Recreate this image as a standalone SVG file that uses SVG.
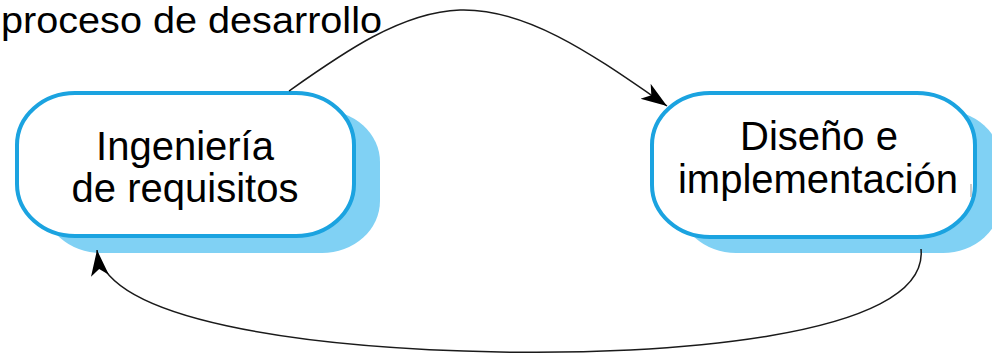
<svg xmlns="http://www.w3.org/2000/svg" width="992" height="362" viewBox="0 0 992 362">
<style>
.shadow{fill:#80d1f4;stroke:none}
.box{fill:#ffffff;stroke:#1ba3e0;stroke-width:4}
.t{font-family:"Liberation Sans",Arial,sans-serif;font-size:40px;fill:#000;text-anchor:middle}
.conn{fill:none;stroke:#1a1a1a;stroke-width:1.5}
</style>
<defs>
<marker id="arr" markerUnits="userSpaceOnUse" markerWidth="28" markerHeight="22" refX="26" refY="11" orient="auto">
<path d="M0,2 L26,11 L0,20 L7,11 Z" fill="#000"/>
</marker>
</defs>
<rect width="992" height="362" fill="#fff"/>
<text x="1" y="33" textLength="381" lengthAdjust="spacingAndGlyphs" style="font-family:'Liberation Sans',Arial,sans-serif;font-size:36.5px;fill:#000">proceso de desarrollo</text>
<g id="node-ingenieria">
<rect class="shadow" x="43" y="110" width="337" height="143" rx="58" ry="52"/>
<rect class="box" x="17" y="93" width="337" height="143" rx="58" ry="52"/>
<text class="t" x="185" y="160">Ingeniería</text>
<text class="t" x="185" y="202">de requisitos</text>
</g>
<g id="node-diseno">
<rect class="shadow" x="678" y="110" width="323" height="143" rx="58" ry="52"/>
<rect class="box" x="652" y="93" width="323" height="144" rx="58" ry="52"/>
<text class="t" x="819" y="150">Diseño e</text>
<text class="t" x="818" y="193">implementación</text>
<line x1="971" y1="184" x2="971" y2="197" stroke="#bbb" stroke-width="1.5"/>
</g>
<g id="connectors">
<path class="conn" d="M289,91 C340,55 400,12 460,10 C530,8 600,60 667,106" marker-end="url(#arr)"/>
<path class="conn" d="M921,249 C930,340 650,355 500,352 C300,348 105,320 97,250" marker-end="url(#arr)"/>
</g>
</svg>
